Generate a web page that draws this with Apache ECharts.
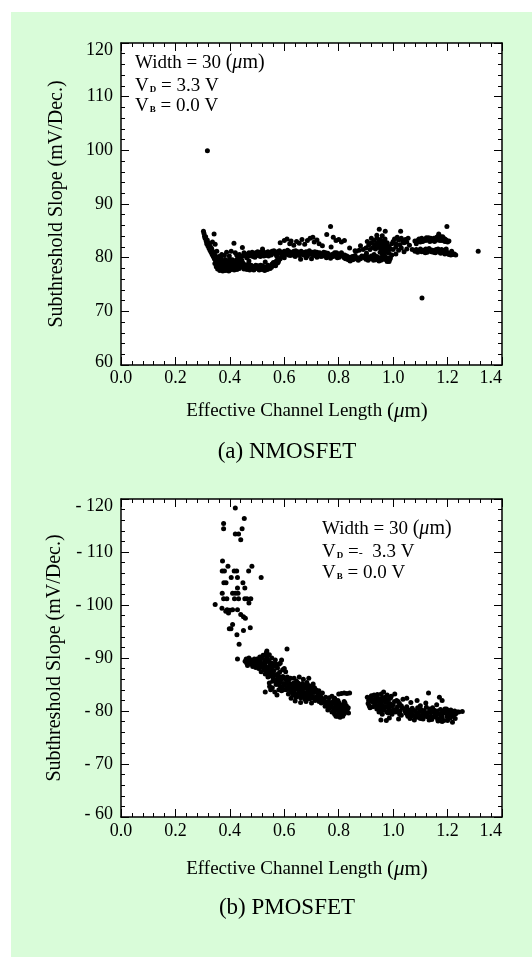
<!DOCTYPE html>
<html>
<head>
<meta charset="utf-8">
<script src="https://cdn.jsdelivr.net/npm/echarts@6/dist/echarts.min.js"></script>
<style>
  body { margin: 0; background: #fff; }
  #wrap { position: relative; width: 532px; height: 957px; background: #fff; }
  #bg { position: absolute; left: 11px; top: 12px; right: 0; bottom: 0; background: #d9fcd9; }
  #chart { position: absolute; left: 0; top: 0; width: 532px; height: 957px; }
</style>
</head>
<body>
<div id="wrap">
  <div id="bg"></div>
  <div id="chart"></div>
</div>
<script>
// (a) NMOSFET  [Leff (um), S (mV/dec)]
var nmosPoints = [
  [0.303,84.9],[0.305,84.5],[0.307,84.0],[0.309,83.6],[0.311,83.9],[0.313,83.1],[0.315,82.6],[0.317,83.3],
  [0.319,82.2],[0.321,82.8],[0.323,81.8],[0.325,82.4],[0.327,81.4],[0.329,82.0],[0.331,81.0],[0.333,81.7],
  [0.335,80.6],[0.337,81.2],[0.339,80.2],[0.341,80.9],[0.343,79.8],[0.345,80.5],[0.347,79.5],[0.349,80.1],
  [0.351,79.1],[0.353,79.8],[0.355,78.8],[0.357,79.4],[0.342,84.4],[0.336,82.9],[0.346,82.5],[0.352,81.2],
  [0.36,78.5],[0.362,79.2],[0.365,78.1],[0.368,78.8],[0.37,77.9],[0.372,79.5],[0.375,78.4],[0.378,77.7],
  [0.38,79.0],[0.382,78.2],[0.385,77.6],[0.387,78.7],[0.39,79.3],[0.392,77.8],[0.395,78.4],[0.397,79.0],
  [0.40,77.7],[0.402,78.5],[0.405,79.2],[0.407,78.0],[0.41,78.8],[0.412,77.9],[0.415,79.4],[0.417,78.3],
  [0.42,78.9],[0.422,78.0],[0.425,79.6],[0.428,78.6],[0.43,79.1],[0.433,78.2],[0.436,79.8],[0.44,79.0],
  [0.443,80.2],[0.446,78.5],[0.388,81.0],[0.415,82.7],[0.446,81.9],[0.37,80.6],[0.398,80.3],[0.425,80.5],
  [0.405,81.2],
  [0.345,78.9],[0.35,78.3],[0.355,77.9],[0.36,79.6],[0.363,77.6],[0.367,79.9],[0.371,78.3],[0.374,77.5],
  [0.377,79.3],[0.381,78.7],[0.384,79.6],[0.389,78.1],[0.393,78.9],[0.396,77.5],[0.399,79.7],[0.403,77.9],
  [0.406,78.7],[0.409,79.6],[0.413,78.4],[0.416,77.7],[0.419,79.1],[0.423,78.4],[0.426,77.8],[0.429,79.9],
  [0.432,78.7],[0.435,78.0],[0.438,78.9],[0.441,78.3],[0.444,79.5],[0.448,79.0],[0.36,80.2],[0.38,80.4],
  [0.42,80.9],[0.435,80.6],
  [0.45,80.4],[0.455,80.7],[0.46,80.3],[0.465,80.6],[0.47,80.9],[0.475,80.4],[0.48,80.7],[0.485,80.2],
  [0.49,80.6],[0.495,80.9],[0.50,80.4],[0.505,80.7],[0.51,81.0],[0.515,80.5],[0.52,80.8],[0.525,80.3],
  [0.53,80.9],[0.535,80.6],[0.54,81.1],[0.545,80.7],[0.55,80.9],[0.555,81.2],[0.56,80.8],[0.565,81.0],
  [0.57,80.6],[0.575,81.1],[0.58,80.8],
  [0.45,78.3],[0.455,78.7],[0.46,78.1],[0.465,78.5],[0.47,78.0],[0.475,78.4],[0.48,78.2],[0.485,77.9],
  [0.49,78.3],[0.495,78.6],[0.50,78.1],[0.505,77.9],[0.51,78.3],[0.515,78.0],[0.52,78.5],[0.525,78.1],
  [0.53,77.8],[0.535,78.3],[0.54,78.6],[0.545,78.1],[0.55,78.4],[0.555,78.8],[0.56,79.1],[0.565,78.7],
  [0.57,79.3],[0.575,79.0],[0.58,79.5],[0.585,79.8],[0.59,80.2],[0.52,81.6],[0.47,79.4],[0.53,79.2],
  [0.452,77.9],[0.458,78.4],[0.463,77.8],[0.468,78.8],[0.473,77.7],[0.478,78.6],[0.483,78.4],[0.488,77.7],
  [0.493,78.0],[0.498,78.4],[0.503,78.5],[0.508,77.7],[0.513,78.6],[0.518,77.8],[0.523,78.3],[0.528,77.6],
  [0.533,78.0],[0.538,77.8],[0.543,78.4],[0.548,78.0],[0.553,78.2],[0.558,78.5],[0.563,79.0],[0.568,78.5],
  [0.573,79.5],[0.578,79.2],
  [0.59,81.0],[0.595,80.6],[0.60,81.2],[0.605,80.8],[0.61,81.0],[0.615,80.5],[0.62,81.1],[0.625,80.7],
  [0.63,80.9],[0.635,81.2],[0.64,80.6],[0.645,80.9],[0.65,81.1],[0.655,80.4],[0.66,80.8],[0.665,81.0],
  [0.67,80.5],[0.675,80.9],[0.68,81.1],[0.685,80.3],[0.69,80.7],[0.695,81.0],[0.70,80.6],[0.705,80.9],
  [0.71,80.4],[0.715,80.8],[0.72,81.0],[0.725,80.5],[0.73,80.9],[0.735,80.2],[0.74,80.7],[0.745,81.0],
  [0.75,80.4],[0.755,80.0],[0.76,80.8],[0.765,80.3],[0.77,79.9],[0.775,80.6],[0.78,80.2],[0.785,80.9],
  [0.79,80.5],[0.795,80.0],[0.80,80.7],[0.805,80.3],[0.81,80.9],[0.815,80.4],[0.82,80.0],[0.825,79.8],
  [0.83,80.3],[0.835,79.6],[0.84,80.1],[0.845,79.7],[0.85,80.2],[0.855,79.9],[0.86,80.4],[0.865,81.2],
  [0.87,80.0],[0.875,81.4],[0.88,79.8],[0.885,80.3],[0.89,81.5],[0.60,80.0],[0.64,80.2],[0.68,80.0],
  [0.72,80.1],[0.66,79.7],[0.70,79.8],
  [0.452,80.9],[0.462,80.0],[0.472,80.3],[0.482,81.0],[0.492,80.1],[0.502,81.1],[0.512,80.2],[0.522,81.2],
  [0.532,80.4],[0.542,80.3],[0.552,80.5],[0.562,81.3],[0.572,80.3],[0.582,81.3],[0.592,80.5],[0.602,80.6],
  [0.612,81.4],[0.622,80.4],[0.632,80.5],[0.642,81.3],[0.652,80.7],[0.662,81.2],[0.672,80.9],[0.682,80.6],
  [0.692,81.3],[0.702,81.0],[0.712,81.1],[0.722,80.6],[0.732,80.6],[0.742,80.3],[0.752,80.9],[0.762,80.5],
  [0.772,80.4],[0.782,80.7],[0.792,80.9],[0.802,80.1],[0.812,80.6],[0.822,80.5],[0.832,79.9],[0.842,79.4],
  [0.852,79.6],[0.862,79.8],[0.872,79.5],[0.882,80.1],
  [0.585,82.8],[0.60,83.2],[0.61,83.5],[0.62,82.6],[0.625,83.1],[0.635,82.3],[0.645,83.0],[0.655,82.7],
  [0.665,83.4],[0.675,82.5],[0.685,83.2],[0.695,83.6],[0.705,83.8],[0.71,82.9],[0.72,83.3],[0.728,82.6],
  [0.74,82.2],[0.756,84.3],[0.77,85.8],[0.772,82.0],[0.78,83.8],[0.79,83.2],[0.80,83.4],[0.81,82.9],
  [0.821,83.2],[0.84,81.8],[0.86,81.3],[0.88,82.2],
  [0.895,80.0],[0.90,79.7],[0.905,80.2],[0.91,80.0],[0.915,79.8],[0.92,80.3],[0.925,79.9],[0.93,80.1],
  [0.935,79.6],[0.94,80.2],[0.945,79.8],[0.95,80.0],[0.955,79.5],[0.96,80.1],[0.965,79.7],[0.97,80.3],
  [0.975,79.6],[0.98,79.9],[0.985,79.3],[0.99,80.0],[0.995,80.5],
  [0.898,80.4],[0.908,79.5],[0.918,80.1],[0.928,79.5],[0.938,80.0],[0.948,79.4],[0.958,79.8],[0.968,80.0],
  [0.978,79.3],[0.988,79.7],[0.902,80.8],[0.93,80.6],[0.96,80.7],[0.985,80.8],[0.97,81.0],[0.952,81.0],
  [0.90,81.8],[0.91,82.3],[0.915,81.5],[0.92,82.8],[0.925,81.9],[0.93,83.2],[0.932,82.4],[0.935,81.6],
  [0.94,83.6],[0.942,82.7],[0.945,81.9],[0.948,83.0],[0.95,82.2],[0.953,83.4],[0.955,81.7],[0.958,82.6],
  [0.96,83.1],[0.963,82.0],[0.965,81.4],[0.968,82.9],[0.97,83.5],[0.973,82.3],[0.975,81.6],[0.978,82.8],
  [0.98,81.2],[0.985,82.1],[0.99,81.6],[0.995,82.6],[0.949,85.3],[0.971,84.9],[0.96,84.1],[0.94,84.2],
  [0.92,83.6],[0.905,83.0],
  [1.0,83.0],[1.005,83.5],[1.01,82.6],[1.015,83.8],[1.02,83.3],[1.025,82.4],[1.03,83.6],[1.035,83.1],
  [1.04,82.8],[1.045,83.4],[1.05,82.9],[1.055,83.6],[1.0,81.5],[1.01,82.0],[1.02,81.4],[1.03,81.8],
  [1.04,81.1],[1.05,81.6],[1.0275,84.9],[1.01,80.7],[1.06,82.3],[1.07,81.5],[1.08,83.1],[1.085,82.6],
  [1.09,83.2],[1.095,83.5],[1.10,83.3],[1.105,83.6],[1.11,83.1],[1.115,83.4],[1.12,83.2],[1.125,83.5],
  [1.13,83.3],[1.135,83.0],[1.14,83.4],[1.145,83.2],[1.15,83.6],[1.155,83.3],[1.16,83.8],[1.165,84.0],
  [1.1675,84.4],[1.17,83.5],[1.175,83.9],[1.18,83.2],[1.185,83.6],[1.19,83.0],[1.195,83.3],[1.20,82.9],
  [1.205,83.1],[1.1975,85.8],
  [1.092,83.0],[1.108,83.0],[1.122,83.7],[1.138,83.6],[1.152,83.0],[1.162,83.3],[1.172,83.2],[1.182,83.9],
  [1.198,83.0],[1.10,82.9],[1.13,83.7],[1.16,83.5],[1.19,83.5],
  [1.08,81.2],[1.085,81.5],[1.09,81.0],[1.095,81.3],[1.10,81.6],[1.105,81.1],[1.11,81.4],[1.115,81.2],
  [1.12,81.6],[1.125,81.0],[1.13,81.3],[1.135,81.5],[1.14,81.1],[1.145,81.4],[1.15,81.2],[1.155,80.9],
  [1.16,81.3],[1.165,81.6],[1.17,81.0],[1.175,80.8],[1.18,81.3],[1.185,81.0],[1.19,80.7],[1.195,81.2],
  [1.20,80.9],[1.205,80.6],[1.21,80.8],[1.22,80.6],[1.23,80.5],[1.215,81.2],[1.195,81.6],
  [1.088,81.3],[1.102,81.3],[1.118,80.9],[1.132,81.7],[1.148,81.0],[1.158,81.5],[1.168,81.3],[1.178,81.5],
  [1.188,81.4],[1.198,80.8],[1.212,80.5],[1.225,80.7],
  [0.3175,99.9],[1.106,72.5],[1.3125,81.2]
];

// (b) PMOSFET  [Leff (um), |S| (mV/dec)]
var pmosPoints = [
  [0.42,118.3],[0.453,116.3],[0.377,115.4],[0.377,114.4],[0.445,114.4],[0.42,113.4],[0.432,113.4],[0.44,112.3],
  [0.373,108.3],[0.393,107.3],[0.481,107.3],[0.372,106.4],[0.38,106.4],[0.416,106.4],[0.425,106.4],[0.469,106.4],
  [0.515,105.2],[0.405,105.2],[0.428,105.2],[0.378,104.2],[0.386,104.2],[0.448,104.2],[0.428,103.2],[0.455,103.2],
  [0.372,102.2],[0.41,102.2],[0.42,102.2],[0.43,102.2],[0.377,101.2],[0.389,101.2],[0.417,101.2],[0.432,101.2],
  [0.463,101.2],[0.477,101.2],[0.455,101.2],[0.346,100.1],[0.47,100.4],[0.371,99.4],[0.39,99.1],[0.40,99.0],
  [0.41,99.1],[0.395,98.5],[0.428,99.1],[0.44,98.2],[0.45,97.8],[0.457,97.5],[0.385,98.8],[0.41,96.3],
  [0.398,95.5],[0.404,95.5],[0.426,94.4],[0.45,95.2],[0.475,95.7],[0.434,92.6],[0.428,89.8],
  [0.456,89.4],[0.462,89.0],[0.468,89.6],[0.474,89.2],[0.48,88.8],[0.486,89.5],[0.492,89.1],[0.498,88.7],
  [0.504,89.3],[0.51,88.5],[0.51,90.2],[0.516,89.0],[0.52,88.2],[0.522,90.5],[0.526,87.8],[0.528,89.6],
  [0.532,88.4],[0.534,91.0],[0.536,87.4],[0.536,91.3],[0.538,89.9],[0.54,88.0],[0.544,87.0],[0.546,89.2],
  [0.548,88.6],[0.55,86.6],[0.552,88.0],[0.554,90.0],[0.556,87.2],[0.558,88.9],[0.56,86.2],[0.562,87.6],
  [0.565,85.8],[0.567,89.6],[0.57,86.8],[0.572,85.4],[0.575,88.1],[0.578,86.2],[0.58,85.0],[0.583,87.3],
  [0.586,84.6],[0.588,85.9],[0.59,89.6],[0.592,84.2],[0.595,86.5],[0.598,85.2],[0.60,84.8],[0.53,83.6],
  [0.573,83.0],[0.545,85.3],[0.556,84.4],[0.61,91.7],[0.60,88.0],[0.605,87.4],
  [0.46,89.8],[0.465,88.6],[0.47,90.0],[0.478,89.6],[0.484,88.4],[0.49,89.8],[0.495,88.2],[0.5,89.8],
  [0.506,88.0],[0.512,89.6],[0.515,87.4],[0.518,90.0],[0.524,88.8],[0.53,87.0],[0.53,89.0],[0.534,90.4],
  [0.54,86.4],[0.542,89.4],[0.545,90.6],[0.55,87.6],[0.553,89.0],[0.557,85.6],[0.56,88.4],[0.563,86.8],
  [0.566,88.6],[0.57,85.0],[0.574,86.0],[0.577,87.0],[0.58,84.0],[0.582,86.4],[0.585,85.4],[0.59,83.8],
  [0.594,87.8],[0.597,84.0],[0.546,84.6],[0.55,84.0],[0.565,83.6],[0.58,88.8],[0.585,89.0],[0.57,88.8],
  [0.604,86.0],[0.608,85.3],[0.612,84.5],[0.616,85.8],[0.62,84.0],[0.624,85.1],[0.628,83.6],[0.632,84.7],
  [0.636,86.2],[0.64,83.2],[0.642,84.9],[0.645,85.6],[0.648,82.8],[0.65,84.2],[0.653,83.5],[0.656,85.0],
  [0.66,82.5],[0.662,83.9],[0.665,84.6],[0.668,82.9],[0.67,86.0],[0.672,83.4],[0.675,82.2],[0.678,84.3],
  [0.68,83.0],[0.683,85.4],[0.686,82.6],[0.688,83.8],[0.69,84.8],[0.693,82.3],[0.696,83.4],[0.70,84.4],
  [0.703,82.8],[0.706,85.1],[0.71,83.5],[0.713,82.0],[0.716,84.0],[0.72,82.6],[0.724,83.3],[0.728,81.8],
  [0.732,82.9],[0.736,81.5],[0.74,83.4],[0.64,81.9],[0.66,81.6],[0.68,81.8],[0.70,81.5],[0.625,82.4],
  [0.655,86.4],[0.69,86.2],
  [0.607,84.0],[0.611,86.4],[0.615,83.2],[0.619,85.0],[0.623,86.2],[0.627,84.3],[0.631,83.0],[0.635,85.3],
  [0.639,84.0],[0.643,82.6],[0.647,84.4],[0.651,85.3],[0.655,83.2],[0.659,84.5],[0.663,82.8],[0.667,85.2],
  [0.671,83.0],[0.675,84.8],[0.679,82.4],[0.683,83.5],[0.687,84.2],[0.691,83.2],[0.695,82.4],[0.699,83.8],
  [0.703,84.0],[0.707,82.4],[0.711,84.4],[0.715,82.6],[0.719,83.6],[0.723,82.1],[0.727,83.8],[0.731,82.3],
  [0.735,82.6],[0.739,82.0],[0.66,83.6],[0.67,84.2],[0.68,84.6],
  [0.745,82.2],[0.75,80.9],[0.755,81.7],[0.76,80.2],[0.765,82.5],[0.77,81.1],[0.775,79.8],[0.78,80.6],
  [0.782,82.0],[0.785,79.4],[0.79,81.3],[0.792,80.1],[0.795,79.0],[0.798,80.8],[0.80,81.6],[0.803,79.6],
  [0.806,80.4],[0.81,79.2],[0.812,81.2],[0.815,80.0],[0.818,80.7],[0.82,79.5],[0.823,81.5],[0.826,80.2],
  [0.83,79.8],[0.835,80.6],[0.79,79.0],[0.805,78.8],[0.81,83.3],[0.82,83.4],[0.83,83.3],[0.84,83.4],
  [0.80,83.2],[0.775,82.8],[0.76,81.0],[0.785,82.4],
  [0.748,81.6],[0.752,82.6],[0.758,81.2],[0.762,81.8],[0.768,80.6],[0.772,81.6],[0.778,81.4],[0.782,80.0],
  [0.788,80.8],[0.793,80.4],[0.797,81.4],[0.801,80.0],[0.804,81.0],[0.808,79.8],[0.811,80.6],[0.814,79.4],
  [0.817,81.0],[0.821,80.3],[0.824,79.9],[0.828,81.0],[0.832,80.4],[0.836,79.6],[0.80,79.4],[0.815,79.0],
  [0.82,81.8],[0.797,82.0],
  [0.905,82.6],[0.908,81.4],[0.912,81.0],[0.915,80.6],[0.92,82.9],[0.922,81.8],[0.926,80.8],[0.93,83.0],
  [0.932,82.2],[0.935,81.2],[0.94,80.4],[0.942,83.1],[0.945,82.4],[0.948,79.8],[0.95,81.6],[0.953,80.8],
  [0.956,83.2],[0.958,82.0],[0.96,79.4],[0.962,81.0],[0.965,83.6],[0.968,80.4],[0.97,82.6],[0.973,81.6],
  [0.976,79.8],[0.978,83.0],[0.98,80.9],[0.983,82.2],[0.986,78.7],[0.988,81.4],[0.99,80.1],[0.993,82.8],
  [0.996,79.4],[1.0,81.2],[1.003,80.3],[1.006,83.2],[1.01,79.8],[1.013,82.0],[1.016,80.8],[1.02,78.5],
  [1.023,81.4],[1.026,80.0],[1.03,79.2],[1.033,80.6],[1.036,82.2],[0.955,78.3],[0.975,78.2],
  [0.91,82.0],[0.918,82.3],[0.928,81.6],[0.936,82.8],[0.944,80.9],[0.95,80.2],[0.957,81.4],[0.963,80.2],
  [0.967,82.0],[0.972,80.8],[0.978,81.8],[0.982,79.6],[0.986,80.4],[0.99,82.4],[0.995,81.0],[1.0,80.0],
  [1.005,81.8],[1.012,80.3],[1.018,81.8],[1.024,79.4],[1.03,81.0],[0.96,82.5],[0.94,81.8],
  [1.042,80.4],[1.046,79.6],[1.05,80.8],[1.054,79.0],[1.058,80.2],[1.062,78.6],[1.066,79.8],[1.07,80.5],
  [1.074,79.2],[1.078,78.3],[1.082,80.0],[1.086,79.4],[1.09,80.6],[1.094,78.8],[1.098,79.9],[1.102,80.3],
  [1.106,79.1],[1.11,78.5],[1.114,80.1],[1.118,79.5],[1.122,80.7],[1.126,78.9],[1.13,79.7],[1.134,80.4],
  [1.138,79.0],[1.142,78.4],[1.146,79.8],[1.15,80.2],[1.154,79.3],[1.158,78.8],[1.162,80.0],[1.166,79.5],
  [1.17,78.6],[1.174,80.3],[1.178,79.2],[1.182,79.9],[1.186,78.2],[1.19,80.4],[1.194,79.6],[1.198,78.9],
  [1.202,80.1],[1.206,79.4],[1.21,78.7],[1.214,79.8],[1.218,77.9],[1.222,79.3],[1.226,80.0],[1.23,79.5],
  [1.236,79.8],[1.241,79.8],[1.254,79.9],
  [1.044,80.0],[1.052,79.4],[1.06,79.6],[1.068,79.0],[1.076,80.1],[1.084,78.8],[1.092,79.6],[1.1,78.6],
  [1.108,79.8],[1.116,79.0],[1.124,79.6],[1.132,78.3],[1.14,79.8],[1.148,78.9],[1.156,79.9],[1.164,78.4],
  [1.172,79.4],[1.18,78.8],[1.188,79.6],[1.196,80.4],[1.204,78.6],[1.212,80.2],[1.22,79.0],[1.228,78.6],
  [1.18,78.0],[1.2,78.2],[1.165,78.1],[1.145,80.6],
  [1.088,82.0],[1.13,83.4],[1.18,82.0],[1.12,81.5],[1.16,81.2],[1.17,82.6],[1.065,81.6],[1.05,82.4],[1.10,81.0]
];

var xRange = [0, 1.4];
var yRange = [60, 120];
var captions = ['(a) NMOSFET', '(b) PMOSFET'];

var FONT = '"Liberation Serif", "Times New Roman", serif';
var myChart = echarts.init(document.getElementById('chart'));

function xAx(grid, pos, showLabel, margin) {
  return {
    type: 'value', gridIndex: grid, position: pos, min: xRange[0], max: xRange[1], interval: 0.2,
    axisLine: { show: true, onZero: false, lineStyle: { color: '#000', width: 1.5 } },
    axisTick: { show: true, inside: true, length: 8, lineStyle: { color: '#000', width: 1 } },
    minorTick: { show: true, splitNumber: 5, length: 4, lineStyle: { color: '#000', width: 1 } },
    splitLine: { show: false },
    axisLabel: {
      show: showLabel, margin: margin, color: '#000', fontFamily: FONT, fontSize: 18,
      alignMaxLabel: 'right',
      formatter: function (v) { return v.toFixed(1); }
    }
  };
}
function yAx(grid, pos, showLabel, dash) {
  return {
    type: 'value', gridIndex: grid, position: pos, min: yRange[0], max: yRange[1], interval: 10,
    axisLine: { show: true, onZero: false, lineStyle: { color: '#000', width: 1.5 } },
    axisTick: { show: true, inside: true, length: 8, lineStyle: { color: '#000', width: 1 } },
    minorTick: { show: true, splitNumber: 5, length: 4, lineStyle: { color: '#000', width: 1 } },
    splitLine: { show: false },
    axisLabel: {
      show: showLabel, margin: 8, color: '#000', fontFamily: FONT, fontSize: 18,
      formatter: function (v) {
        var s = dash ? '- ' + v : '' + v;
        if (v === yRange[1]) return '{t|' + s + '}';
        if (v === yRange[0]) return '{b|' + s + '}';
        return s;
      },
      rich: {
        t: { fontFamily: FONT, fontSize: 18, color: '#000', padding: [14, 0, 0, 0] },
        b: { fontFamily: FONT, fontSize: 18, color: '#000', padding: [0, 0, 6, 0] }
      }
    },
    name: showLabel ? 'Subthreshold Slope (mV/Dec.)' : '',
    nameLocation: 'middle', nameRotate: 90, nameGap: 54,
    nameTextStyle: { color: '#000', fontFamily: FONT, fontSize: 20 }
  };
}

var muRich = {
  mu: { fontFamily: FONT, fontSize: 21, fontStyle: 'italic', color: '#000' },
  p: { fontFamily: FONT, fontSize: 21, color: '#000' }
};

function txt(x, y, text) {
  return {
    type: 'text', x: x, y: y, silent: true,
    style: {
      text: text, fill: '#000', font: '19px ' + FONT,
      align: 'left', verticalAlign: 'middle',
      rich: {
        v: { fontFamily: FONT, fontSize: 19, color: '#000' },
        s: { fontFamily: FONT, fontSize: 9, fontWeight: 'bold', color: '#000', verticalAlign: 'bottom', padding: [0, 0, 1, 1] },
        d: { fontFamily: FONT, fontSize: 12, color: '#000', verticalAlign: 'bottom', padding: [0, 0, 2, 0] },
        mu: { fontFamily: FONT, fontSize: 20, fontStyle: 'italic', color: '#000' },
        p: { fontFamily: FONT, fontSize: 20, color: '#000' }
      }
    }
  };
}

var option = {
  animation: false,
  grid: [
    { left: 121, top: 43, width: 381, height: 322, show: true, backgroundColor: '#fff', borderWidth: 0 },
    { left: 121, top: 499, width: 381, height: 318, show: true, backgroundColor: '#fff', borderWidth: 0 }
  ],
  xAxis: [xAx(0, 'bottom', true, 4), xAx(0, 'top', false, 4), xAx(1, 'bottom', true, 5), xAx(1, 'top', false, 5)],
  yAxis: [yAx(0, 'left', true, false), yAx(0, 'right', false, false), yAx(1, 'left', true, true), yAx(1, 'right', false, true)],
  series: [
    { type: 'scatter', xAxisIndex: 0, yAxisIndex: 0, data: nmosPoints, symbolSize: 5, silent: true,
      itemStyle: { color: '#000', opacity: 1 } },
    { type: 'scatter', xAxisIndex: 2, yAxisIndex: 2, data: pmosPoints, symbolSize: 5, silent: true,
      itemStyle: { color: '#000', opacity: 1 } }
  ],
  graphic: [
    txt(135, 63, '{v|Width = 30 }{p|(}{mu|μ}{p|m)}'),
    txt(135, 86, '{v|V}{s|D}{v| = 3.3 V}'),
    txt(135, 106, '{v|V}{s|B}{v| = 0.0 V}'),
    txt(322, 529, '{v|Width = 30 }{p|(}{mu|μ}{p|m)}'),
    txt(322, 552, '{v|V}{s|D}{v| =}{d|-}{v|  3.3 V}'),
    txt(322, 573, '{v|V}{s|B}{v| = 0.0 V}'),
    {
      type: 'text', x: 307, y: 411, silent: true,
      style: { text: 'Effective Channel Length {p|(}{mu|μ}{p|m)}', fill: '#000', font: '19px ' + FONT,
        align: 'center', verticalAlign: 'middle', rich: muRich }
    },
    {
      type: 'text', x: 307, y: 869, silent: true,
      style: { text: 'Effective Channel Length {p|(}{mu|μ}{p|m)}', fill: '#000', font: '19px ' + FONT,
        align: 'center', verticalAlign: 'middle', rich: muRich }
    },
    {
      type: 'text', x: 287, y: 452, silent: true,
      style: { text: captions[0], fill: '#000', font: '23px ' + FONT, align: 'center', verticalAlign: 'middle' }
    },
    {
      type: 'text', x: 287, y: 908, silent: true,
      style: { text: captions[1], fill: '#000', font: '23px ' + FONT, align: 'center', verticalAlign: 'middle' }
    }
  ]
};

myChart.setOption(option);
</script>
</body>
</html>
